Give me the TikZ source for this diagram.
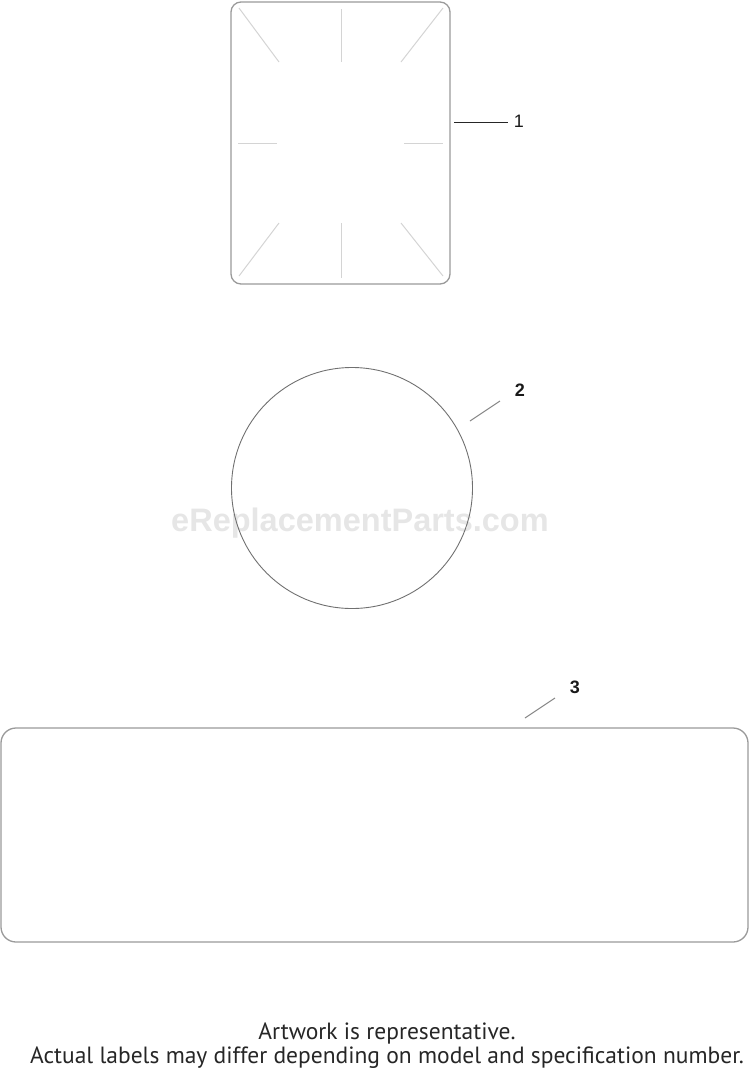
\documentclass[tikz,border=0pt]{standalone}
\usepackage{fontspec}
\setmainfont{Liberation Sans}
\newfontfamily\footfont{PT Sans}
\definecolor{outl}{HTML}{9A9A9A}
\definecolor{circl}{HTML}{707070}
\definecolor{inner}{HTML}{D4D4D4}
\definecolor{leadc}{HTML}{8A8A8A}
\definecolor{wmark}{HTML}{E6E6E6}
\tikzset{
  labelbox/.style={draw=outl, line width=1.3pt, inner sep=0pt},
  ray/.style={draw=inner, line width=1pt},
  leader/.style={draw=leadc, line width=1pt},
  callout/.style={font=\fontsize{18}{18}\selectfont, text=black!90, inner sep=0pt},
  foot/.style={font=\footfont\fontsize{23.5}{28}\selectfont, text=black!85, inner sep=0pt, anchor=base},
}
\begin{document}
\begin{tikzpicture}[x=1pt,y=-1pt]
\useasboundingbox (0,0) rectangle (750,1077);
% watermark
\node[text=wmark, font=\fontsize{32.5}{32.5}\selectfont\bfseries, inner sep=0pt] (wm) at (360,523) {eReplacementParts.com};
% label 1
\node[labelbox, minimum width=219pt, minimum height=282pt, rounded corners=10pt] (lab1) at (340.5,143) {};
\draw[ray] (239,8) -- (279,62);
\draw[ray] (341,9) -- (341,62);
\draw[ray] (443,8) -- (401,62);
\draw[ray] (238,143) -- (277,143);
\draw[ray] (404,143) -- (443,143);
\draw[ray] (279,223) -- (239,276);
\draw[ray] (341,223) -- (341,278);
\draw[ray] (401,223) -- (443,276);
\coordinate (l1a) at (454,122);
\coordinate (l1b) at (508,122);
\node[callout] (n1) at (519,121) {1};
\draw[draw=black!85, line width=1pt] (l1a) -- (l1b);
% label 2
\node[draw=circl, line width=0.9pt, circle, minimum size=241pt, inner sep=0pt] (lab2) at (352,488) {};
\coordinate (l2a) at (470,421);
\coordinate (l2b) at (500,401);
\draw[leader] (l2a) -- (l2b);
\node[callout] (n2) at (520,390) {\bfseries 2};
% label 3
\node[labelbox, minimum width=747pt, minimum height=214pt, rounded corners=15pt] (lab3) at (374.5,835) {};
\coordinate (l3a) at (525,718);
\coordinate (l3b) at (555,698);
\draw[leader] (l3a) -- (l3b);
\node[callout] (n3) at (575,687) {\bfseries 3};
% footer
\node[foot] (f1) at (387,1039) {Artwork is representative.};
\node[foot] (f2) at (387,1063) {Actual labels may differ depending on model and specification number.};
\end{tikzpicture}
\end{document}
